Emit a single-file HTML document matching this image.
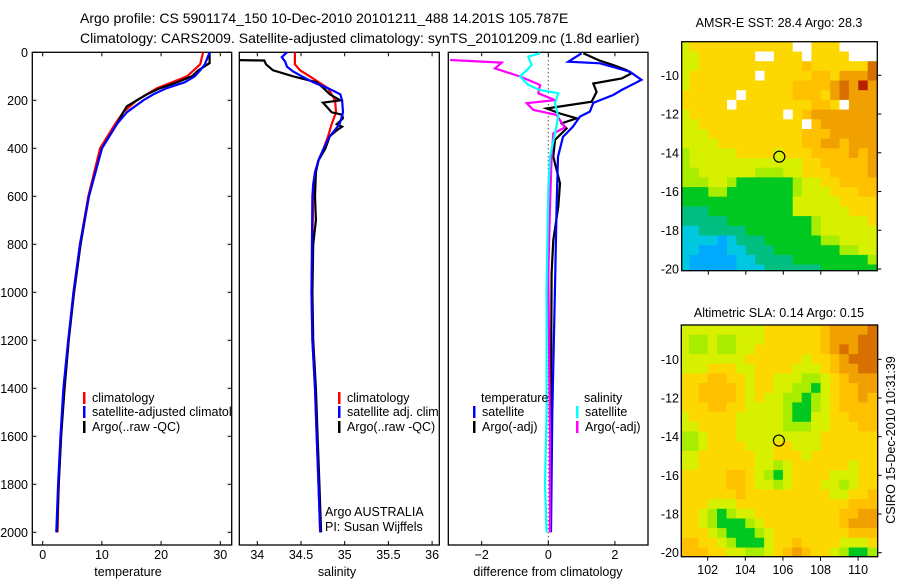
<!DOCTYPE html>
<html><head><meta charset="utf-8"><style>
body{margin:0;background:#fff;}
svg{display:block;font-family:"Liberation Sans",sans-serif;}
</style></head><body>
<svg id="c" width="900" height="580" viewBox="0 0 900 580" xmlns="http://www.w3.org/2000/svg">
<text x="80" y="23" font-size="14">Argo profile: CS 5901174_150 10-Dec-2010 20101211_488 14.201S 105.787E</text>
<text x="80" y="43" font-size="14">Climatology: CARS2009. Satellite-adjusted climatology: synTS_20101209.nc (1.8d earlier)</text>
<text x="779" y="27" font-size="12.5" text-anchor="middle">AMSR-E SST: 28.4 Argo: 28.3</text>
<text x="779" y="317" font-size="12.5" text-anchor="middle">Altimetric SLA: 0.14 Argo: 0.15</text>
<text transform="translate(895,440) rotate(-90)" font-size="12.5" text-anchor="middle">CSIRO 15-Dec-2010 10:31:39</text>
<g id="g"></g>
</svg>
<script>
// ---- data ----
const depthTicks=[0,200,400,600,800,1000,1200,1400,1600,1800,2000];
const tempTicks=[0,10,20,30];
const salTicks=[34,34.5,35,35.5,36];
const diffTicks=[-2,0,2];
const tClimD=[0,50,100,150,200,250,300,400,500,600,800,1000,1200,1400,1600,1800,2000];
const tClimV=[27.1,26.6,24.4,19.3,15.9,13.6,12.2,9.7,8.7,7.7,6.3,5.2,4.4,3.6,3.1,2.7,2.5];
const tSatD=[0,50,75,100,125,150,175,200,250,300,400,500,600,800,1000,1200,1400,1600,1800,2000];
const tSatV=[28.2,27.4,26.6,25.7,24,20.9,18.7,17,14.2,12.5,10,8.9,7.8,6.3,5.2,4.3,3.5,3,2.6,2.3];
const tArgoD=[0,45,75,100,125,150,175,200,225,250,300,400,500,600,800,1000,1200,1400,1600,1800,2000];
const tArgoV=[28.2,28.2,26.3,25.2,22.7,19.8,17.6,15.9,14.2,13.6,12.5,10,8.9,7.8,6.4,5.3,4.4,3.7,3.1,2.7,2.4];
const sClimD=[0,50,75,100,150,200,250,300,350,400,450,500,600,800,1000,1200,1400,1600,1800,2000];
const sClimV=[34.43,34.43,34.49,34.6,34.81,34.89,34.9,34.85,34.81,34.76,34.7,34.66,34.64,34.63,34.62,34.63,34.66,34.68,34.7,34.72];
const sSatD=[0,20,40,60,80,100,125,150,175,200,250,300,350,400,450,500,550,600,1000,1200,1400,1600,1800,2000];
const sSatV=[34.34,34.28,34.32,34.34,34.41,34.51,34.64,34.81,34.95,34.97,34.98,34.94,34.83,34.76,34.7,34.66,34.64,34.63,34.62,34.63,34.66,34.68,34.7,34.72];
const sArgoD=[32,34,50,75,100,125,150,175,200,210,225,250,260,275,300,310,325,350,400,450,500,600,700,800,1000,1200,1400,1600,1800,2000];
const sArgoV=[33.7,34.08,34.1,34.18,34.41,34.68,34.76,34.83,34.95,34.75,34.79,34.85,34.97,34.98,34.91,34.97,34.91,34.83,34.78,34.7,34.67,34.66,34.67,34.64,34.63,34.64,34.67,34.69,34.71,34.73];
const dTSatD=[4,39,46,81,115,157,178,211,247,268,310,352,435,643,977,1500,2000];
const dTSatV=[1.0,0.6,1.55,2.45,2.8,2.2,1.95,1.35,1.25,0.95,0.74,0.44,0.29,0.25,0.2,0.12,0.08];
const dTArgoD=[4,35,53,74,88,109,130,165,206,234,255,275,296,317,365,435,546,643,782,921,1400,2000];
const dTArgoV=[1.05,1.55,1.95,2.35,2.5,2.2,1.35,1.45,1.3,-0.05,0.35,0.85,0.4,0.55,0.2,0.15,0.35,0.3,0.15,0.1,0.08,0.05];
const dSSatD=[4,18,53,74,101,136,157,171,212,268,338,435,574,977,1500,1800,2000];
const dSSatV=[-0.25,-0.6,-0.5,-0.65,-0.85,-0.6,-0.25,0.3,0.2,0.3,0.2,0.05,0,-0.05,-0.05,-0.1,-0.05];
const dSArgoD=[32,43,67,101,136,171,199,212,240,261,313,338,435,643,921,1600,2000];
const dSArgoV=[-2.95,-1.4,-1.6,-0.85,-0.25,-0.3,0.2,-0.65,-0.45,0.25,0.5,0.15,0.1,0.05,0,0.05,0.05];
const latTicks=[-10,-12,-14,-16,-18,-20];
const lonTicks=[102,104,106,108,110];
const argoLon=105.787, argoLat=-14.201;
const sstGrid=[
"566666666666ww666wwww","55666666ww666w6666www","556666666666676666669","56666666w666667768889",
"5666666666667777898a8","666666w66666777689888","66666w66666666776w888","56666666666w678888888",
"5566666666666w7888888","555666666666677788888","555566666666677887888","455555666656667777878",
"455555555555566777778","445555554445566677778","444554333333455667777","333443333333455566677",
"333333333333555556666","222333333333555555666","222223333333334555556","112222233333334555555",
"111101222333333445555","110001122233333334455","100000112222333333334","100000111222222333333"];
const slaGrid=[
"555555555666666788889","544544555666666788899","544544556666666789899","555555566666656678999",
"555666556666555678899","666776656655544567888","667777656655443567788","667777656554434567787",
"666776655554334567777","566666555554335566777","556666555554445566677","445666555555555666666",
"445666655566555666666","556666665566656666666","556666665545666666566","666667765435666655566",
"666667765545666554566","666666766666666655667","666555666666666666777","665434556666666667788",
"665433345666666667888","666543334566666666777","776654333566766665556","777665544567876654334"];
// ---- geometry ----
const svg=document.getElementById('g');
const NS='http://www.w3.org/2000/svg';
function el(t,a){const e=document.createElementNS(NS,t);for(const k in a)e.setAttribute(k,a[k]);return e;}
const yTop=52.3, yBot=545;
const yD=d=>52.3+d*0.24;
const xT=v=>42.7+5.92*v;
const xS=v=>257.3+87.4*(v-34);
const xDf=v=>548.3+33.3*v;
const panels=[{x0:32.3,x1:231.7,name:'temperature-panel'},{x0:239.3,x1:439.3,name:'salinity-panel'},{x0:448.3,x1:648,name:'difference-panel'}];
const defs=el('defs',{});svg.appendChild(defs);
panels.forEach((p,i)=>{const cp=el('clipPath',{id:'cp'+i});cp.appendChild(el('rect',{x:p.x0,y:yTop,width:p.x1-p.x0,height:yBot-yTop}));defs.appendChild(cp);});
function txt(x,y,s,o){const t=el('text',Object.assign({x:x,y:y,'font-size':12.5},o||{}));t.textContent=s;return t;}
panels.forEach((p,i)=>{
 const r=el('rect',{x:p.x0,y:yTop,width:p.x1-p.x0,height:yBot-yTop,fill:'none',stroke:'#000','stroke-width':1.3});
 
 
 svg.appendChild(r);
});
depthTicks.forEach(d=>{
 const y=yD(d);
 const t=txt(28,y+4.5,String(d),{'text-anchor':'end'});
 
 
 svg.appendChild(t);
 svg.appendChild(el('line',{x1:32.3,x2:36.3,y1:y,y2:y,stroke:'#000'}));
 svg.appendChild(el('line',{x1:227.7,x2:231.7,y1:y,y2:y,stroke:'#000'}));
});
function xticks(vals,fx,labelFn){
 vals.forEach(v=>{const x=fx(v);
  svg.appendChild(el('line',{x1:x,x2:x,y1:yTop,y2:yTop+4,stroke:'#000'}));
  svg.appendChild(el('line',{x1:x,x2:x,y1:yBot-4,y2:yBot,stroke:'#000'}));
  const t=txt(x,559,labelFn(v),{'text-anchor':'middle'});
  
  
  svg.appendChild(t);});
}
xticks(tempTicks,xT,v=>String(v));
xticks(salTicks,xS,v=>String(v));
xticks(diffTicks,xDf,v=>v<0?'\u2212'+(-v):String(v));
[[128,'temperature','temperature-axis-title'],[337,'salinity','salinity-axis-title'],[548,'difference from climatology','difference-axis-title']].forEach(a=>{
 const t=txt(a[0],576,a[1],{'text-anchor':'middle'});
 
 
 svg.appendChild(t);
});
const zl=el('line',{x1:xDf(0),x2:xDf(0),y1:yTop,y2:yBot,stroke:'#000','stroke-dasharray':'1,3'});


svg.appendChild(zl);
function line(D,V,fx,color,ci,name){
 const pts=D.map((d,i)=>fx(V[i]).toFixed(1)+','+yD(d).toFixed(1)).join(' ');
 const pl=el('polyline',{points:pts,fill:'none',stroke:color,'stroke-width':2.2,'clip-path':'url(#cp'+ci+')'});
 
 
 svg.appendChild(pl);
}
line(tClimD,tClimV,xT,'#f00',0,'temperature-climatology-line');
line(tArgoD,tArgoV,xT,'#000',0,'temperature-argo-line');
line(tSatD,tSatV,xT,'#00f',0,'temperature-satellite-line');
line(sClimD,sClimV,xS,'#f00',1,'salinity-climatology-line');
line(sArgoD,sArgoV,xS,'#000',1,'salinity-argo-line');
line(sSatD,sSatV,xS,'#00f',1,'salinity-satellite-line');
line(dTArgoD,dTArgoV,xDf,'#000',2,'temp-diff-argo-line');
line(dTSatD,dTSatV,xDf,'#00f',2,'temp-diff-satellite-line');
line(dSArgoD,dSArgoV,xDf,'#f0f',2,'sal-diff-argo-line');
line(dSSatD,dSSatV,xDf,'#0ff',2,'sal-diff-satellite-line');
function leg(x,y,color,label,ci){
 const b=el('rect',{x:x,y:y-10,width:2.5,height:12,fill:color});
 
 
 svg.appendChild(b);
 const t=txt(x+9,y,label,{'clip-path':'url(#cp'+ci+')'});
 
 
 svg.appendChild(t);
}
leg(83,402,'#f00','climatology',0);leg(83,416,'#00f','satellite-adjusted climatology',0);leg(83,431,'#000','Argo(..raw -QC)',0);
leg(338,402,'#f00','climatology',1);leg(338,416,'#00f','satellite adj. clim.',1);leg(338,431,'#000','Argo(..raw -QC)',1);
const lt=txt(481,402,'temperature');svg.appendChild(lt);
const ls=txt(584,402,'salinity');svg.appendChild(ls);
leg(473,416,'#00f','satellite',2);leg(473,431,'#000','Argo(-adj)',2);
leg(576,416,'#0ff','satellite',2);leg(576,431,'#f0f','Argo(-adj)',2);
const a1=txt(325,516,'Argo AUSTRALIA');svg.appendChild(a1);
const a2=txt(325,531,'PI: Susan Wijffels');svg.appendChild(a2);
const cmap={'0':'#00aaff','1':'#00c8e0','2':'#00bf80','3':'#00c820','4':'#a8ec00','5':'#d6f000','6':'#fcd800','7':'#ffc000','8':'#f0a000','9':'#d87000','a':'#b82000','w':'#ffffff'};
function drawMap(m){
 const fx=lon=>m.x102+(lon-102)*m.px;
 const fy=lat=>m.y10+(-10-lat)*m.py;
 const cp=el('clipPath',{id:m.id+'clip'});cp.appendChild(el('rect',{x:m.x0,y:m.y0,width:m.x1-m.x0,height:m.y1-m.y0}));defs.appendChild(cp);
 const g=el('g',{'clip-path':'url(#'+m.id+'clip)'});
 
 
 svg.appendChild(g);
 m.grid.forEach((row,r)=>{
  const lat0=m.latTop-0.5*r;
  for(let c=0;c<row.length;c++){
   const lon0=100.5+0.5*c;
   const x=fx(lon0),y=fy(lat0);
   const cell=el('rect',{x:x.toFixed(1),y:y.toFixed(1),width:(m.px*0.5+0.6).toFixed(1),height:(m.py*0.5+0.6).toFixed(1),fill:cmap[row[c]]});
   
   
   g.appendChild(cell);
  }
 });
 const fr=el('rect',{x:m.x0,y:m.y0,width:m.x1-m.x0,height:m.y1-m.y0,fill:'none',stroke:'#000','stroke-width':1.3});
 
 
 svg.appendChild(fr);
 latTicks.forEach(l=>{const y=fy(l);
  svg.appendChild(el('line',{x1:m.x1,x2:m.x1+4,y1:y,y2:y,stroke:'#000'}));
  const t=txt(679,y+4.5,'-'+(-l),{'text-anchor':'end'});
  
  
  svg.appendChild(t);});
 lonTicks.forEach(l=>{const x=fx(l);
  svg.appendChild(el('line',{x1:x,x2:x,y1:m.y1,y2:m.y1+4,stroke:'#000'}));
  if(m.labels){const t=txt(x,574,String(l),{'text-anchor':'middle'});
   
   
   svg.appendChild(t);}
 });
 const c=el('circle',{cx:fx(argoLon),cy:fy(argoLat),r:5.5,fill:'none',stroke:'#000','stroke-width':1.2});
 
 
 svg.appendChild(c);
}
drawMap({id:'sst',name:'sst-map',grid:sstGrid,x0:681.7,x1:877.3,y0:41.7,y1:270.7,x102:708.3,px:18.75,y10:75.3,py:19.37,latTop:-8.27,labels:false});
drawMap({id:'sla',name:'sla-map',grid:slaGrid,x0:681.3,x1:877.7,y0:325,y1:556.7,x102:707.7,px:18.8,y10:359.3,py:19.34,latTop:-8.23,labels:true});
</script>
</body></html>
